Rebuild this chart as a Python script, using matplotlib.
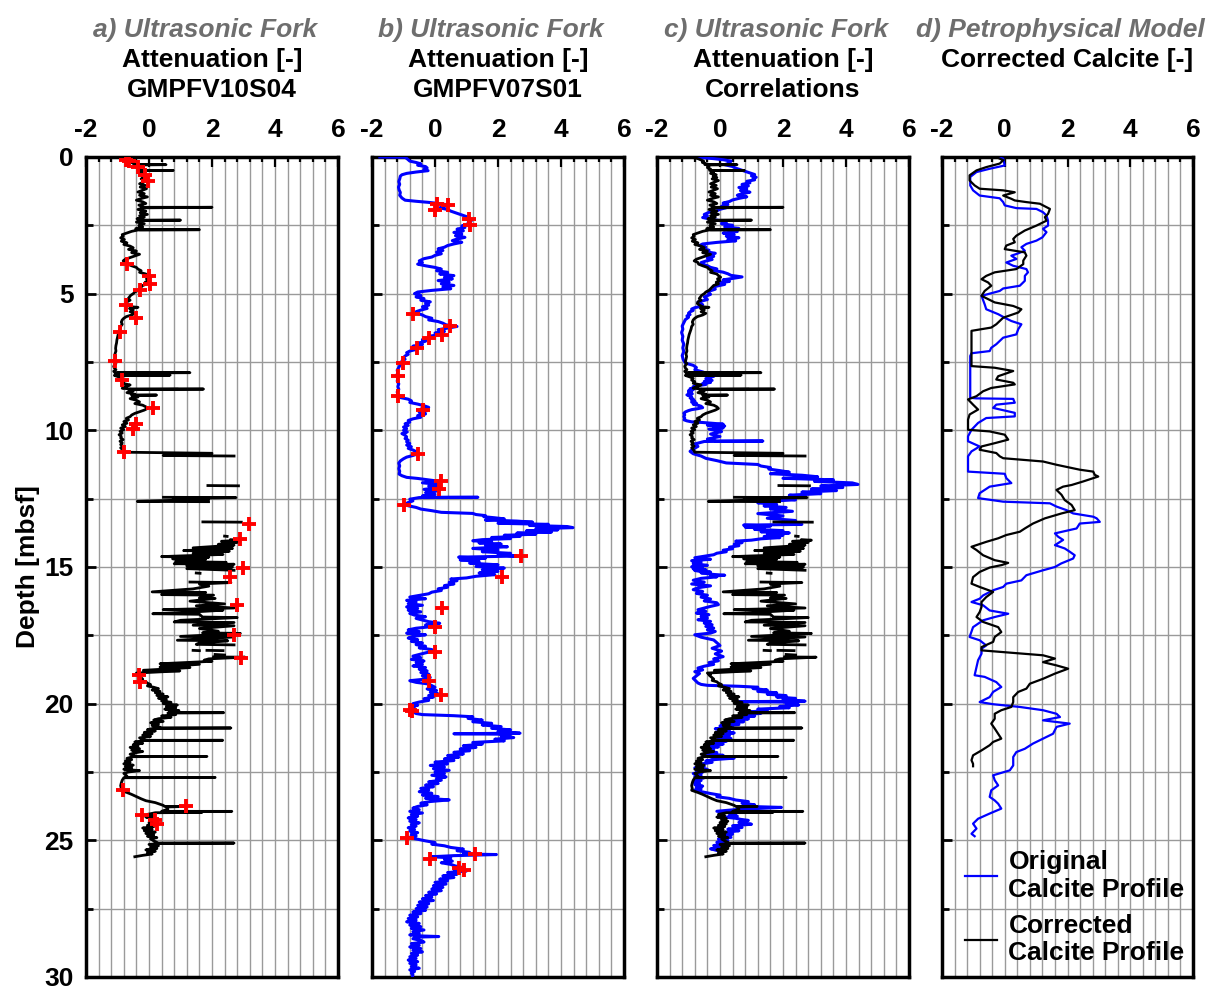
import numpy as np
import matplotlib
matplotlib.use('Agg')
import matplotlib.pyplot as plt
from matplotlib.ticker import MultipleLocator, FixedLocator

nan = np.nan

# ---------------- data (depth [mbsf], value) ----------------
X_TICKS = [-2, 0, 2, 4, 6]
Y_TICKS = [0, 5, 10, 15, 20, 25, 30]

# a) GMPFV10S04 attenuation profile
A_PROFILE = [
(0.00,-1.10),(0.03,-0.78),(0.07,-0.68),(0.11,-0.60),(0.15,-0.52),(0.20,-0.56),(0.24,-0.45),(0.28,-0.48),(0.28,0.54),(0.29,-0.42),
(0.34,-0.35),(0.39,-0.40),(0.44,-0.30),(0.49,-0.33),(0.49,0.77),(0.50,-0.28),(0.55,-0.20),(0.60,-0.30),(0.65,-0.12),(0.70,-0.22),
(0.75,-0.10),(0.80,-0.25),(0.86,-0.05),(0.92,-0.18),(0.98,-0.30),(1.04,-0.12),(1.10,-0.28),(1.16,-0.08),(1.22,-0.22),(1.28,-0.35),
(1.34,-0.15),(1.40,-0.30),(1.46,-0.05),(1.52,-0.25),(1.58,-0.40),(1.64,-0.20),(1.70,-0.10),(1.76,-0.32),(1.84,-0.15),(1.84,2.00),
(1.86,-0.20),(1.92,-0.35),(1.98,-0.10),(2.04,-0.28),(2.10,-0.05),(2.15,-0.30),(2.20,-0.15),(2.26,-0.38),(2.31,-0.25),(2.31,1.00),
(2.32,-0.20),(2.38,-0.40),(2.44,-0.15),(2.50,-0.32),(2.56,-0.20),(2.62,-0.42),(2.66,-0.30),(2.66,1.60),(2.67,-0.35),(2.72,-0.55),
(2.78,-0.70),(2.84,-0.85),(2.90,-0.82),(2.96,-0.90),(3.02,-0.78),(3.08,-0.88),(3.14,-0.70),(3.20,-0.80),(3.26,-0.60),(3.32,-0.50),
(3.38,-0.65),(3.44,-0.40),(3.50,-0.55),(3.56,-0.30),(3.62,-0.45),(3.68,-0.60),(3.74,-0.75),(3.80,-0.82),(3.86,-0.70),(3.92,-0.68),
(3.98,-0.55),(4.04,-0.40),(4.10,-0.35),(4.16,-0.25),(4.22,-0.30),(4.28,-0.10),(4.34,-0.05),(4.40,0.02),(4.46,-0.08),(4.52,0.00),
(4.58,-0.12),(4.64,-0.05),(4.70,-0.20),(4.76,-0.25),(4.82,-0.30),(4.88,-0.35),(4.94,-0.45),(5.00,-0.50),(5.06,-0.58),(5.12,-0.62),
(5.18,-0.66),(5.24,-0.60),(5.30,-0.70),(5.36,-0.72),(5.42,-0.65),(5.48,-0.55),(5.50,-0.35),(5.54,-0.62),(5.60,-0.50),(5.66,-0.60),
(5.72,-0.45),(5.78,-0.55),(5.84,-0.72),(5.90,-0.80),(5.96,-0.85),(6.04,-0.88),(6.12,-0.85),(6.20,-0.90),(6.30,-0.92),(6.40,-0.95),
(6.50,-0.98),(6.60,-1.00),(6.70,-1.02),(6.80,-1.03),(6.90,-1.05),(7.00,-1.06),(7.10,-1.05),(7.20,-1.08),(7.30,-1.06),(7.40,-1.08),
(7.50,-1.10),(7.56,-1.05),(7.62,-1.10),(7.66,-1.12),(7.72,-1.10),(7.78,-1.05),(7.84,-1.12),(7.89,-1.08),(7.89,1.30),(7.90,-1.00),
(7.95,-1.05),(7.98,-1.00),(7.98,0.67),(7.99,-1.10),(8.05,-0.95),(8.10,-0.85),(8.16,-0.90),(8.22,-0.80),(8.28,-0.85),(8.34,-0.60),
(8.40,-0.75),(8.46,-0.85),(8.49,-0.55),(8.49,1.73),(8.50,-0.60),(8.50,0.93),(8.51,-0.65),(8.56,-0.50),(8.62,-0.70),(8.68,-0.45),
(8.71,-0.50),(8.71,0.24),(8.72,-0.55),(8.78,-0.35),(8.84,-0.60),(8.90,-0.40),(8.96,-0.30),(9.02,-0.45),(9.08,-0.20),(9.14,-0.10),
(9.20,-0.05),(9.26,-0.15),(9.32,-0.30),(9.38,-0.45),(9.44,-0.55),(9.50,-0.60),(9.56,-0.72),(9.62,-0.65),(9.68,-0.80),(9.74,-0.70),
(9.80,-0.85),(9.86,-0.75),(9.92,-0.90),(9.98,-0.80),(10.04,-0.92),(10.10,-0.85),(10.16,-0.95),(10.22,-0.88),(10.28,-0.90),(10.34,-0.82),
(10.40,-0.92),(10.46,-0.85),(10.52,-0.90),(10.58,-0.82),(10.64,-0.90),(10.70,-0.85),(10.80,-0.80),(10.84,2.00),(10.86,1.95),(10.92,0.45),
(10.94,2.70),(nan,nan),
(12.02,1.87),(12.03,2.84),(nan,nan),
(12.45,0.46),(12.46,2.76),(12.50,0.77),(12.52,1.89),(12.60,-0.37),(12.61,1.89),(nan,nan),
(13.35,1.71),(13.36,2.93),(nan,nan),
(13.87,2.40),(13.88,2.48),(nan,nan),
(14.00,2.60),(14.02,2.90),(14.06,2.30),(14.10,2.80),(14.17,2.20),(14.20,2.70),(14.30,1.40),(14.32,2.65),(14.40,1.10),(14.42,2.55),
(14.50,1.40),(14.54,2.35),(14.62,0.40),(14.64,1.90),(14.70,0.75),(14.72,1.80),(14.80,0.85),(14.83,2.45),(14.88,0.80),(14.90,2.70),
(14.96,1.20),(15.00,2.65),(15.06,1.20),(15.12,2.70),(nan,nan),
(15.22,1.50),(15.23,1.62),(nan,nan),
(15.55,1.30),(15.57,2.60),(15.62,1.60),(15.70,1.90),(15.80,1.40),(15.91,0.10),(15.93,1.80),(16.01,0.40),(16.03,2.05),(16.13,1.60),
(16.15,2.10),(16.25,1.30),(16.35,2.40),(16.42,1.50),(16.50,2.70),(16.56,0.45),(16.58,2.35),(16.66,1.20),(16.71,0.12),(16.73,1.60),
(16.83,1.70),(16.85,2.80),(16.95,1.00),(17.01,0.80),(17.03,2.70),(17.13,1.40),(17.15,2.70),(17.25,1.60),(17.35,2.20),(17.41,1.70),
(17.43,2.90),(17.54,1.00),(17.56,2.70),(17.68,0.90),(17.70,2.50),(17.78,1.60),(17.83,1.50),(17.85,2.70),(nan,nan),
(18.05,1.40),(18.06,1.60),(nan,nan),
(18.05,1.84),(18.06,2.35),(nan,nan),
(18.20,2.10),(18.22,2.40),(nan,nan),
(18.29,2.05),(18.30,3.05),(18.36,1.90),(18.41,1.75),(18.45,2.00),(18.54,0.35),(18.56,1.60),(18.66,0.35),(18.68,1.30),(18.78,-0.18),
(18.80,0.98),(18.88,-0.40),(18.92,-0.30),(18.95,-0.35),(19.00,-0.30),(19.05,-0.25),(19.10,-0.20),(19.15,-0.25),(19.20,-0.10),(19.25,-0.05),
(19.30,0.05),(19.35,-0.05),(19.40,0.15),(19.45,0.30),(19.50,0.10),(19.55,0.35),(19.60,0.20),(19.65,0.45),(19.70,0.25),(19.75,0.60),
(19.80,0.30),(19.85,0.55),(19.90,0.40),(19.95,0.70),(20.00,0.45),(20.05,0.90),(20.10,0.55),(20.15,0.85),(20.20,0.50),(20.25,0.95),
(20.30,0.65),(20.33,0.70),(20.33,2.37),(20.34,0.60),(20.40,0.85),(20.45,0.40),(20.50,0.70),(20.55,0.30),(20.60,0.15),(20.65,0.45),
(20.70,0.05),(20.75,0.30),(20.80,0.10),(20.86,0.35),(20.89,0.20),(20.89,2.60),(20.90,0.15),(20.95,-0.05),(21.00,0.20),(21.05,-0.15),
(21.10,0.10),(21.15,-0.20),(21.20,0.05),(21.25,-0.30),(21.34,-0.10),(21.34,2.34),(21.35,-0.15),(21.40,-0.45),(21.45,-0.20),(21.50,-0.50),
(21.55,-0.35),(21.60,-0.60),(21.65,-0.30),(21.70,-0.55),(21.75,-0.20),(21.80,-0.45),(21.85,-0.60),(21.93,-0.40),(21.93,1.84),(21.94,-0.50),
(22.00,-0.70),(22.05,-0.55),(22.10,-0.75),(22.15,-0.60),(22.20,-0.80),(22.25,-0.50),(22.30,-0.75),(22.35,-0.55),(22.40,-0.80),(22.45,-0.30),
(22.50,-0.65),(22.55,-0.80),(22.60,-0.75),(22.65,-0.70),(22.70,-0.75),(22.70,2.10),(22.71,-0.80),(22.80,-0.85),(22.90,-0.88),(23.00,-0.90),
(23.10,-0.88),(23.17,-0.90),(23.25,-0.70),(23.32,-0.55),(23.40,-0.40),(23.48,-0.25),(23.55,-0.10),(23.62,0.20),(23.68,0.35),(23.72,0.45),
(23.76,0.50),(23.76,1.18),(23.78,0.55),(23.86,0.60),(23.94,0.40),(23.94,2.63),(23.96,0.50),(23.98,1.68),(23.99,0.20),(24.05,-0.05),
(24.10,0.15),(24.15,-0.10),(24.20,0.20),(24.25,0.05),(24.30,0.25),(24.35,0.00),(24.40,0.20),(24.45,-0.05),(24.50,0.15),(24.55,-0.20),
(24.60,0.10),(24.65,-0.15),(24.70,0.20),(24.75,-0.10),(24.80,0.15),(24.85,-0.05),(24.90,0.25),(24.95,0.05),(25.02,0.15),(25.10,0.30),
(25.10,2.70),(25.11,0.35),(25.15,0.00),(25.20,0.30),(25.25,0.05),(25.30,0.25),(25.35,-0.10),(25.40,0.20),(25.45,-0.05),(25.50,0.10),
(25.55,-0.20),(25.60,-0.45)]

# b) GMPFV07S01 attenuation profile
B_PROFILE = [
(0.00,-1.75),(0.01,-0.95),(0.05,-0.90),(0.10,-0.85),(0.15,-0.80),(0.20,-0.60),(0.25,-0.45),(0.30,-0.55),(0.35,-0.30),(0.40,-0.25),
(0.45,-0.35),(0.50,-0.22),(0.55,-0.60),(0.60,-0.90),(0.65,-1.05),(0.70,-1.10),(0.80,-1.12),(0.90,-1.15),(1.00,-1.12),(1.10,-1.16),
(1.20,-1.14),(1.30,-1.10),(1.40,-1.12),(1.50,-1.05),(1.58,-0.95),(1.62,-0.60),(1.66,-0.20),(1.70,0.10),(1.74,0.35),(1.80,0.30),
(1.86,0.15),(1.92,0.40),(1.98,0.50),(2.04,0.65),(2.10,0.80),(2.16,0.95),(2.22,1.10),(2.28,1.00),(2.34,1.15),(2.40,1.05),
(2.46,1.10),(2.52,0.85),(2.58,0.95),(2.64,0.70),(2.70,0.90),(2.76,0.60),(2.82,0.85),(2.88,0.65),(2.94,0.95),(3.00,0.70),
(3.06,0.55),(3.12,0.85),(3.18,0.60),(3.24,0.40),(3.30,0.30),(3.36,0.10),(3.42,0.25),(3.48,0.05),(3.54,0.20),(3.60,0.00),
(3.66,-0.10),(3.72,-0.35),(3.80,-0.50),(3.86,-0.40),(3.92,-0.55),(3.98,-0.30),(4.04,0.00),(4.10,0.20),(4.16,0.05),(4.22,0.40),
(4.28,0.15),(4.34,0.60),(4.40,0.30),(4.46,0.55),(4.52,0.10),(4.58,0.45),(4.64,0.20),(4.70,0.60),(4.76,0.25),(4.82,0.50),
(4.88,-0.10),(4.94,-0.55),(5.00,-0.65),(5.06,-0.45),(5.12,-0.60),(5.18,-0.35),(5.24,-0.45),(5.30,-0.15),(5.36,-0.30),(5.42,-0.20),
(5.48,-0.40),(5.54,-0.25),(5.60,-0.45),(5.66,-0.60),(5.72,-0.55),(5.78,-0.40),(5.84,-0.30),(5.90,-0.10),(5.96,-0.20),(6.02,0.10),
(6.08,0.25),(6.14,0.35),(6.20,0.70),(6.26,0.40),(6.32,0.10),(6.38,0.30),(6.44,0.00),(6.50,0.15),(6.56,-0.20),(6.62,-0.15),
(6.68,-0.40),(6.74,-0.30),(6.80,-0.50),(6.86,-0.40),(6.92,-0.70),(6.98,-0.55),(7.04,-0.60),(7.10,-0.80),(7.16,-0.90),(7.22,-0.85),
(7.28,-0.95),(7.34,-1.00),(7.40,-0.95),(7.46,-1.05),(7.52,-1.00),(7.60,-1.10),(7.70,-1.15),(7.80,-1.20),(7.90,-1.18),(8.00,-1.22),
(8.10,-1.18),(8.20,-1.20),(8.30,-1.15),(8.40,-1.18),(8.50,-1.15),(8.60,-1.20),(8.70,-1.17),(8.80,-1.10),(8.86,-0.85),(8.92,-0.75),
(8.98,-0.80),(9.04,-0.55),(9.10,-0.35),(9.16,-0.20),(9.22,-0.45),(9.28,-0.25),(9.34,-0.50),(9.40,-0.30),(9.46,-0.55),(9.52,-0.45),
(9.58,-0.70),(9.64,-0.85),(9.70,-0.80),(9.76,-0.95),(9.82,-0.85),(9.88,-1.00),(9.94,-0.90),(10.00,-1.00),(10.06,-0.88),(10.12,-1.05),
(10.18,-0.95),(10.24,-0.90),(10.30,-0.95),(10.36,-0.85),(10.42,-0.90),(10.48,-0.80),(10.54,-0.90),(10.60,-0.75),(10.66,-0.85),(10.72,-0.70),
(10.78,-0.60),(10.86,-0.55),(10.92,-0.70),(10.98,-0.90),(11.04,-1.00),(11.12,-1.10),(11.20,-1.15),(11.30,-1.12),(11.40,-1.15),(11.50,-1.12),
(11.60,-1.14),(11.66,-1.05),(11.72,-0.90),(11.76,-0.55),(11.80,-0.30),(11.86,0.10),(11.92,-0.40),(11.98,0.15),(12.04,-0.20),(12.10,0.10),
(12.16,-0.35),(12.22,0.05),(12.28,-0.30),(12.34,0.00),(12.40,-0.40),(12.45,-0.10),(12.45,1.36),(12.46,-0.50),(12.52,-0.80),(12.58,-0.70),
(12.64,-0.85),(12.70,-0.95),(12.76,-0.85),(12.82,-0.60),(12.88,-0.45),(12.94,-0.10),(13.00,0.20),(13.04,1.20),(13.08,1.30),(13.12,1.60),
(13.16,1.55),(13.20,1.90),(13.24,2.20),(13.28,1.60),(13.32,2.60),(13.36,3.10),(13.40,2.00),(13.44,3.60),(13.48,3.00),(13.52,4.20),
(13.56,4.38),(13.60,3.20),(13.64,3.90),(13.68,2.90),(13.72,3.70),(13.76,2.60),(13.80,3.20),(13.84,2.20),(13.88,2.70),(13.92,1.80),
(13.96,2.40),(14.00,1.50),(14.04,1.20),(14.08,1.80),(14.12,1.40),(14.16,2.10),(14.20,1.60),(14.26,2.30),(14.32,1.20),(14.38,2.00),
(14.44,1.50),(14.50,2.40),(14.56,2.00),(14.60,2.60),(14.64,0.75),(14.68,1.60),(14.74,0.80),(14.80,1.40),(14.86,1.10),(14.92,2.00),
(14.98,1.30),(15.04,2.20),(15.10,1.50),(15.16,2.00),(15.22,1.40),(15.28,1.90),(15.34,1.30),(15.40,1.00),(15.44,0.50),(15.50,0.70),
(15.56,0.45),(15.62,0.60),(15.68,0.30),(15.74,0.40),(15.80,0.10),(15.86,0.20),(15.92,-0.10),(15.98,-0.20),(16.04,-0.50),(16.10,-0.80),
(16.16,-0.30),(16.22,-0.90),(16.28,-0.60),(16.34,-0.85),(16.40,-0.40),(16.46,-0.90),(16.52,-0.55),(16.58,-0.85),(16.64,-0.45),(16.70,-0.80),
(16.76,-0.65),(16.82,-0.30),(16.88,-0.60),(16.94,-0.40),(17.00,-0.20),(17.06,0.15),(17.12,-0.30),(17.18,-0.10),(17.24,-0.60),(17.30,-0.85),
(17.36,-0.50),(17.42,-0.90),(17.48,-0.30),(17.54,-0.70),(17.60,-0.85),(17.66,-0.55),(17.72,-0.75),(17.78,-0.40),(17.84,-0.60),(17.90,-0.30),
(17.96,-0.50),(18.02,-0.10),(18.08,-0.05),(18.14,-0.30),(18.20,-0.50),(18.26,-0.70),(18.32,-0.45),(18.38,-0.75),(18.44,-0.35),(18.50,-0.60),
(18.56,-0.40),(18.62,-0.70),(18.68,-0.30),(18.74,-0.50),(18.80,-0.25),(18.86,-0.45),(18.92,-0.20),(18.98,-0.40),(19.04,-0.15),(19.10,-0.30),
(19.16,-0.80),(19.22,-0.60),(19.28,-0.20),(19.34,-0.10),(19.40,0.00),(19.46,-0.25),(19.52,0.05),(19.58,-0.15),(19.64,0.10),(19.70,-0.20),
(19.76,-0.05),(19.82,-0.35),(19.88,-0.20),(19.94,-0.50),(20.00,-0.70),(20.06,-0.55),(20.12,-0.80),(20.18,-0.65),(20.24,-0.85),(20.30,-0.70),
(20.36,-0.60),(20.40,-0.40),(20.44,0.60),(20.48,1.20),(20.54,1.05),(20.60,1.50),(20.66,1.20),(20.72,1.80),(20.78,1.50),(20.84,2.10),
(20.90,1.80),(20.96,2.40),(21.02,2.00),(21.08,2.70),(21.10,0.60),(21.12,2.40),(21.18,2.10),(21.24,2.50),(21.30,1.90),(21.36,2.20),
(21.42,1.20),(21.48,1.50),(21.54,0.90),(21.60,1.30),(21.66,0.80),(21.72,1.10),(21.78,0.60),(21.84,0.90),(21.90,0.40),(21.96,0.75),
(22.02,0.30),(22.08,0.60),(22.14,0.00),(22.20,0.40),(22.26,-0.15),(22.32,0.30),(22.38,-0.05),(22.44,0.45),(22.50,0.00),(22.56,0.30),
(22.62,-0.10),(22.68,0.35),(22.74,0.05),(22.80,0.20),(22.86,-0.20),(22.92,0.10),(22.98,-0.30),(23.04,-0.05),(23.10,-0.45),(23.16,-0.20),
(23.22,-0.50),(23.28,-0.10),(23.34,-0.40),(23.40,0.10),(23.46,-0.30),(23.52,0.45),(23.58,-0.15),(23.64,-0.45),(23.70,-0.25),(23.76,-0.55),
(23.82,-0.70),(23.88,-0.50),(23.94,-0.80),(24.00,-0.40),(24.06,-0.75),(24.12,-0.55),(24.18,-0.85),(24.24,-0.60),(24.30,-0.80),(24.36,-0.50),
(24.42,-0.75),(24.48,-0.60),(24.54,-0.85),(24.60,-0.65),(24.66,-0.80),(24.72,-0.55),(24.78,-0.75),(24.84,-0.60),(24.90,-0.85),(24.96,-0.55),
(25.02,-0.30),(25.08,0.00),(25.14,-0.10),(25.20,0.30),(25.26,0.50),(25.32,0.90),(25.38,0.70),(25.44,1.10),(25.50,0.90),(25.52,1.95),
(25.56,0.60),(25.60,-0.10),(25.64,0.50),(25.70,0.30),(25.76,0.55),(25.82,0.20),(25.88,0.50),(25.94,0.65),(26.00,0.90),(26.06,0.60),
(26.12,1.00),(26.18,0.40),(26.24,0.70),(26.30,0.25),(26.36,0.60),(26.42,0.15),(26.48,0.40),(26.54,0.00),(26.60,0.35),(26.66,-0.05),
(26.72,0.25),(26.78,-0.10),(26.84,0.20),(26.90,-0.20),(26.96,0.05),(27.02,-0.30),(27.08,-0.10),(27.14,-0.40),(27.20,-0.05),(27.26,-0.50),
(27.32,-0.20),(27.38,-0.55),(27.44,-0.25),(27.50,-0.60),(27.56,-0.30),(27.62,-0.70),(27.68,-0.45),(27.74,-0.80),(27.80,-0.55),(27.86,-0.85),
(27.92,-0.60),(27.98,-0.90),(28.04,-0.50),(28.10,-0.80),(28.16,-0.45),(28.22,-0.75),(28.28,-0.35),(28.34,-0.70),(28.40,-0.50),(28.46,-0.80),
(28.50,-0.40),(28.52,0.12),(28.54,-0.60),(28.60,-0.70),(28.66,-0.45),(28.72,-0.35),(28.78,-0.75),(28.84,-0.50),(28.90,-0.80),(28.96,-0.45),
(29.02,-0.70),(29.08,-0.40),(29.14,-0.75),(29.20,-0.55),(29.26,-0.80),(29.32,-0.60),(29.38,-0.85),(29.44,-0.55),(29.50,-0.80),(29.56,-0.60),
(29.62,-0.75),(29.68,-0.50),(29.74,-0.80),(29.80,-0.65),(29.86,-0.75),(29.92,-0.70),(30.00,-0.72)]

# tie points (red crosses) picked in a) and b), paired in order
A_TIE_DEPTH = [0.12,0.15,0.37,0.67,0.86,3.93,4.36,4.66,4.85,5.42,5.89,6.42,7.46,8.16,9.17,9.78,9.94,10.80,
               13.44,13.99,15.03,15.37,16.40,17.50,18.33,18.94,19.21,23.17,23.76,24.06,24.27,24.39]
A_TIE_VALUE = [-0.73,-0.62,-0.34,-0.13,-0.02,-0.71,0.00,0.03,-0.29,-0.73,-0.41,-0.92,-1.08,-0.85,0.12,-0.41,-0.50,-0.79,
               3.16,2.88,2.97,2.58,2.79,2.71,2.92,-0.31,-0.29,-0.84,1.18,-0.23,0.19,0.24]
B_TIE_DEPTH = [1.72,1.74,1.94,2.25,2.49,5.73,6.17,6.50,6.63,6.99,7.55,8.00,8.74,9.26,10.86,11.87,12.15,12.72,
               14.60,15.37,16.50,17.20,18.10,19.18,19.67,20.22,20.26,24.90,25.50,25.67,26.00,26.10]
B_TIE_VALUE = [0.06,0.40,0.01,1.09,1.11,-0.71,0.49,0.22,-0.18,-0.58,-1.01,-1.19,-1.17,-0.39,-0.55,0.19,0.14,-0.98,
               2.74,2.13,0.22,0.01,0.01,-0.18,0.19,-0.79,-0.74,-0.90,1.28,-0.15,0.75,0.91]
C_END_DEPTH = 25.4   # correlated b) profile shown down to end of a)

# d) calcite profiles
D_ORIGINAL = [
(0.00,-0.21),(0.06,-0.05),(0.31,0.00),(0.43,-0.48),(0.55,-0.90),(0.73,-1.10),(1.04,-1.10),(1.22,-1.01),(1.41,-0.80),(1.51,-0.16),
(1.65,-0.05),(1.77,0.00),(1.87,0.37),(1.90,1.01),(2.02,1.22),(2.14,1.33),(2.33,1.38),(2.51,1.38),(2.63,1.22),(2.75,1.33),
(2.94,1.20),(3.06,1.01),(3.18,0.69),(3.30,0.53),(3.43,0.64),(3.55,0.37),(3.61,0.21),(3.73,0.37),(3.86,0.05),(3.98,0.27),
(4.10,0.69),(4.22,0.74),(4.35,0.64),(4.53,0.64),(4.65,0.53),(4.71,0.48),(4.81,-0.05),(4.90,-0.16),(5.08,-0.74),(5.39,-0.64),
(5.57,-0.59),(5.75,-0.21),(5.88,0.00),(6.00,0.21),(6.12,0.53),(6.30,0.43),(6.49,0.37),(6.61,-0.05),(6.73,-0.16),(6.85,-0.27),
(6.98,-0.43),(7.10,-0.48),(7.18,-1.06),(7.28,-1.10),(8.81,-1.10),(8.83,-0.90),(8.85,0.27),(8.99,0.32),(9.06,-0.27),(9.18,-0.37),
(9.36,0.32),(9.49,0.32),(9.55,-0.59),(9.73,-0.85),(9.98,-1.06),(10.22,-1.17),(10.40,-1.17),(10.59,-0.80),(10.77,-1.06),(10.95,-1.17),
(11.51,-1.17),(11.59,0.00),(11.75,0.05),(11.93,0.21),(12.06,-0.48),(12.30,-0.80),(12.48,-0.85),(12.61,-0.05),(12.67,1.44),(12.79,1.65),
(12.92,1.97),(13.04,2.18),(13.16,2.82),(13.22,2.93),(13.35,3.03),(13.41,2.39),(13.59,2.29),(13.77,1.60),(13.89,1.70),(14.01,1.86),
(14.20,1.60),(14.32,1.91),(14.44,2.07),(14.57,2.23),(14.69,2.18),(14.87,1.80),(15.00,1.60),(15.12,1.22),(15.30,0.69),(15.49,0.53),
(15.61,0.05),(15.73,-0.05),(15.85,-0.37),(16.04,-0.69),(16.16,-0.80),(16.28,-1.06),(16.40,-0.69),(16.59,-0.48),(16.71,0.11),(16.83,-0.32),
(16.95,-0.69),(17.20,-1.01),(17.56,-1.12),(17.68,-0.80),(17.87,-0.59),(17.99,-0.74),(18.17,-0.74),(18.41,-0.85),(18.66,-0.90),(18.96,-0.96),
(19.02,-0.64),(19.21,-0.27),(19.39,-0.11),(19.57,-0.37),(19.76,-0.48),(19.94,-0.80),(20.02,-0.37),(20.12,0.48),(20.24,1.22),(20.37,1.65),
(20.49,1.76),(20.61,1.22),(20.73,2.07),(20.85,1.65),(21.10,1.54),(21.28,1.22),(21.46,0.90),(21.65,0.64),(21.77,0.37),(21.95,0.27),
(22.13,0.27),(22.26,0.27),(22.44,0.16),(22.62,-0.37),(22.80,-0.32),(22.99,-0.21),(23.17,-0.43),(23.41,-0.48),(23.54,-0.32),(23.66,-0.21),
(23.84,-0.11),(24.02,-0.48),(24.21,-0.85),(24.39,-1.01),(24.57,-0.90),(24.76,-1.06),(24.85,-0.96)]

D_CORRECTED = [
(0.00,-0.27),(0.12,-0.05),(0.24,-0.16),(0.37,-0.59),(0.49,-0.90),(0.67,-1.12),(0.86,-1.12),(1.04,-0.96),(1.16,-0.80),(1.22,-0.05),
(1.29,0.32),(1.41,-0.05),(1.53,0.21),(1.59,0.32),(1.65,0.69),(1.71,1.12),(1.77,1.22),(1.90,1.44),(2.08,1.38),(2.20,1.28),
(2.33,1.33),(2.51,1.01),(2.69,0.64),(2.88,0.37),(3.00,0.27),(3.12,0.32),(3.24,0.05),(3.37,0.00),(3.49,0.64),(3.61,0.69),
(3.79,0.59),(3.92,0.59),(4.10,0.37),(4.22,-0.32),(4.35,-0.59),(4.47,-0.74),(4.59,-0.53),(4.71,-0.43),(4.90,-0.64),(5.08,-0.74),
(5.20,-0.53),(5.32,-0.32),(5.45,0.27),(5.57,0.53),(5.69,0.43),(5.88,-0.05),(6.00,-0.16),(6.12,-0.27),(6.24,-0.43),(6.36,-1.06),
(7.65,-1.06),(7.71,-0.32),(7.83,0.27),(8.02,-0.21),(8.14,-0.27),(8.26,0.27),(8.32,0.32),(8.45,-0.43),(8.57,-0.69),(8.75,-0.90),
(8.87,-1.17),(9.06,-1.01),(9.24,-0.85),(9.42,-1.12),(9.61,-1.17),(9.98,-1.17),(10.04,-0.48),(10.16,0.00),(10.34,0.11),(10.47,-0.32),
(10.59,-0.74),(10.71,-0.80),(10.83,-0.27),(10.95,-0.16),(11.02,-0.05),(11.14,1.22),(11.26,1.65),(11.44,2.39),(11.51,2.82),(11.63,2.87),
(11.69,2.98),(11.75,2.82),(11.87,2.50),(12.00,2.13),(12.06,1.86),(12.18,1.65),(12.36,1.81),(12.55,1.91),(12.73,2.13),(12.92,2.23),
(13.04,1.81),(13.22,1.28),(13.41,0.90),(13.59,0.64),(13.71,0.48),(13.83,0.05),(13.95,-0.21),(14.08,-0.59),(14.26,-1.06),(14.38,-0.90),
(14.57,-0.69),(14.75,-0.32),(14.85,0.11),(14.93,-0.10),(15.02,-0.48),(15.18,-0.80),(15.37,-1.01),(15.61,-1.06),(15.73,-0.80),(15.91,-0.37),
(16.10,-0.59),(16.28,-0.74),(16.46,-0.74),(16.65,-0.80),(16.83,-0.90),(17.01,-0.69),(17.20,-0.21),(17.38,-0.11),(17.56,-0.32),(17.74,-0.37),
(17.93,-0.74),(18.05,-0.74),(18.23,1.22),(18.35,1.60),(18.48,1.22),(18.60,1.65),(18.72,2.02),(18.90,1.60),(19.09,1.22),(19.27,0.80),
(19.45,0.69),(19.57,0.43),(19.76,0.27),(19.94,0.27),(20.12,0.21),(20.24,-0.11),(20.37,-0.32),(20.55,-0.32),(20.73,-0.43),(20.91,-0.32),
(21.10,-0.21),(21.28,-0.11),(21.40,-0.37),(21.52,-0.48),(21.71,-0.74),(21.89,-1.01),(22.07,-1.06),(22.20,-1.01),(22.29,-1.01)]

TITLES = [("a) Ultrasonic Fork", "Attenuation [-]", "GMPFV10S04"),
          ("b) Ultrasonic Fork", "Attenuation [-]", "GMPFV07S01"),
          ("c) Ultrasonic Fork", "Attenuation [-]", "Correlations"),
          ("d) Petrophysical Model", "Corrected Calcite [-]", "")]
LEGEND_LABELS = ["Original\nCalcite Profile", "Corrected\nCalcite Profile"]

# ---------------- helpers ----------------
def split(profile):
    arr = np.array(profile, dtype=float)
    return arr[:, 0], arr[:, 1]

def b_to_a_depth(d):
    d = np.asarray(d, dtype=float)
    out = np.interp(d, B_TIE_DEPTH, A_TIE_DEPTH)
    lo = d < B_TIE_DEPTH[0]
    hi = d > B_TIE_DEPTH[-1]
    out[lo] = A_TIE_DEPTH[0] + (d[lo] - B_TIE_DEPTH[0])
    out[hi] = A_TIE_DEPTH[-1] + (d[hi] - B_TIE_DEPTH[-1])
    return out

# ---------------- figure ----------------
plt.rcParams['font.family'] = ['Liberation Sans', 'DejaVu Sans']
plt.rcParams['font.weight'] = 'bold'
plt.rcParams['font.size'] = 19
plt.rcParams['axes.unicode_minus'] = False

W, H = 1213, 989
fig = plt.figure(figsize=(W / 100, H / 100), dpi=100)
lefts = [86, 372, 657, 942]
rights = [338, 624, 909, 1193]
top_px, bot_px = 157, 977

axes = []
for i, (l, r) in enumerate(zip(lefts, rights)):
    ax = fig.add_axes([l / W, (H - bot_px) / H, (r - l) / W, (bot_px - top_px) / H])
    ax.set_xlim(-2, 6)
    ax.set_ylim(30, 0)
    ax.xaxis.set_major_locator(FixedLocator(X_TICKS))
    ax.xaxis.set_minor_locator(MultipleLocator(0.4))
    ax.yaxis.set_major_locator(FixedLocator(Y_TICKS))
    ax.yaxis.set_minor_locator(MultipleLocator(2.5))
    ax.xaxis.tick_top()
    ax.tick_params(axis='x', which='both', direction='in', top=True, bottom=False,
                   labeltop=True, labelbottom=False, pad=11, colors='black')
    ax.tick_params(axis='x', which='major', length=7, width=1.6)
    ax.tick_params(axis='x', which='minor', length=3.5, width=1.6)
    ax.tick_params(axis='y', which='both', direction='in', left=True, right=False,
                   labelleft=(i == 0), pad=9)
    ax.tick_params(axis='y', which='major', length=7, width=2)
    ax.tick_params(axis='y', which='minor', length=5, width=2)
    ax.grid(True, which='both', color='#9a9a9a', lw=1.0)
    ax.set_axisbelow(True)
    for s in ax.spines.values():
        s.set_linewidth(2.5)
    for lab in ax.get_xticklabels() + ax.get_yticklabels():
        lab.set_fontweight('bold')
    axes.append(ax)

ax_a, ax_b, ax_c, ax_d = axes

a_d, a_v = split(A_PROFILE)
b_d, b_v = split(B_PROFILE)

# a)
ax_a.plot(a_v, a_d, color='black', lw=2.0, zorder=3)
ax_a.plot(A_TIE_VALUE, A_TIE_DEPTH, '+', color='red', ms=10, mew=2.8, zorder=4)
# b)
ax_b.plot(b_v, b_d, color='blue', lw=2.2, zorder=3)
ax_b.plot(B_TIE_VALUE, B_TIE_DEPTH, '+', color='red', ms=10, mew=2.8, zorder=4)
# c) b) profile mapped onto a) depths via tie points
c_d = b_to_a_depth(b_d)
keep = c_d <= C_END_DEPTH
ax_c.plot(b_v[keep], c_d[keep], color='blue', lw=2.2, zorder=3)
ax_c.plot(a_v, a_d, color='black', lw=2.0, zorder=4)
# d)
do_d, do_v = split(D_ORIGINAL)
dc_d, dc_v = split(D_CORRECTED)
l1, = ax_d.plot(do_v, do_d, color='blue', lw=1.6, zorder=3)
l2, = ax_d.plot(dc_v, dc_d, color='black', lw=1.6, zorder=4)
leg = ax_d.legend([l1, l2], LEGEND_LABELS, loc='lower left', bbox_to_anchor=(0.07, 0.008),
                  frameon=False, handlelength=1.2, handletextpad=0.45, labelspacing=0.45,
                  borderpad=0.2, borderaxespad=0, prop={'weight': 'bold', 'size': 19})
for t in leg.get_texts():
    t.set_linespacing(1.18)

# titles
for (l, r), (t1, t2, t3) in zip(zip(lefts, rights), TITLES):
    cx = (l + r) / 2 / W
    fig.text(cx - 7 / W, 1 - 37 / H, t1, ha='center', va='baseline', color='#6e6e6e',
             fontstyle='italic', fontweight='bold')
    fig.text(cx, 1 - 67 / H, t2, ha='center', va='baseline', color='black', fontweight='bold')
    if t3:
        fig.text(cx, 1 - 97 / H, t3, ha='center', va='baseline', color='black', fontweight='bold')

fig.text(28 / W, 1 - 567 / H, 'Depth [mbsf]', rotation=90, ha='center', va='center',
         fontweight='bold')

fig.savefig('out.png', dpi=100)
